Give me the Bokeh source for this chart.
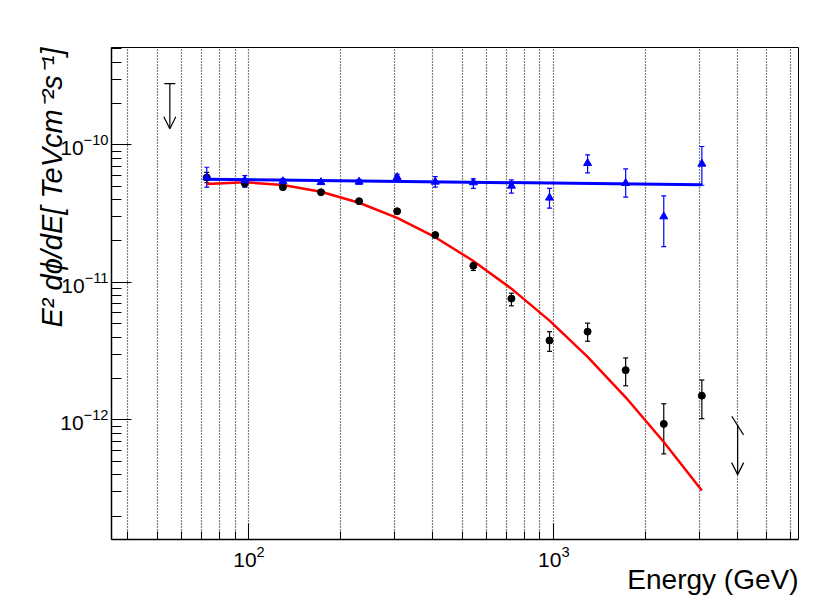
import math
from bokeh.plotting import figure
from bokeh.models import (Range1d, FixedTicker, LogTickFormatter, Title, Arrow,
                          OpenHead, Whisker, TeeHead, ColumnDataSource)
from bokeh.embed import file_html
from bokeh.resources import INLINE

# ---------------- data ----------------
energy = [72.7, 96.9, 129.2, 172.3, 229.7, 306.3, 408.4, 544.6, 726.1,
          968.2, 1291, 1721, 2295, 3060]

black_flux = [5.78e-11, 5.26e-11, 4.92e-11, 4.52e-11, 3.89e-11, 3.29e-11,
              2.21e-11, 1.32e-11, 7.62e-12, 3.78e-12, 4.38e-12, 2.30e-12,
              9.35e-13, 1.50e-12]
black_lo = [5.30e-11, 4.95e-11, 4.75e-11, 4.38e-11, 3.77e-11, 3.18e-11,
            2.12e-11, 1.22e-11, 6.75e-12, 3.15e-12, 3.73e-12, 1.77e-12,
            5.66e-13, 1.02e-12]
black_hi = [6.30e-11, 5.60e-11, 5.10e-11, 4.66e-11, 4.01e-11, 3.40e-11,
            2.30e-11, 1.38e-11, 8.34e-12, 4.38e-12, 5.05e-12, 2.82e-12,
            1.31e-12, 1.95e-12]

blue_flux = [5.78e-11, 5.50e-11, 5.43e-11, 5.34e-11, 5.38e-11, 5.81e-11,
             5.38e-11, 5.32e-11, 5.03e-11, 4.12e-11, 7.35e-11, 5.26e-11,
             3.01e-11, 7.27e-11]
blue_lo = [4.92e-11, 4.92e-11, 5.20e-11, 5.15e-11, 5.18e-11, 5.55e-11,
           4.92e-11, 4.83e-11, 4.45e-11, 3.46e-11, 6.25e-11, 4.16e-11,
           1.82e-11, 5.08e-11]
blue_hi = [6.87e-11, 5.98e-11, 5.68e-11, 5.55e-11, 5.60e-11, 6.10e-11,
           5.88e-11, 5.66e-11, 5.56e-11, 4.83e-11, 8.46e-11, 6.68e-11,
           4.26e-11, 9.72e-11]

# red curved fit sampled at the bin energies
red_fit = [5.20e-11, 5.34e-11, 5.11e-11, 4.56e-11, 3.79e-11, 2.94e-11,
           2.13e-11, 1.43e-11, 9.00e-12, 5.27e-12, 2.87e-12, 1.46e-12,
           6.90e-13, 3.07e-13]
# blue power-law fit (straight in log-log): end points
blue_fit_x = [72.7, 3060]
blue_fit_y = [5.62e-11, 5.12e-11]

# upper limits
ul_x = [55.0, 4010]
ul_top = [2.79e-10, 9.1e-13]
ul_tip = [1.31e-10, 4.0e-13]

x_major = [1e2, 1e3]
x_minor = [40, 50, 60, 70, 80, 90, 200, 300, 400, 500, 600, 700, 800, 900,
           2000, 3000, 4000, 5000, 6000]
y_major = [1e-13, 1e-12, 1e-11, 1e-10]
y_minor = [m * 10.0 ** e for e in (-13, -12, -11, -10) for m in range(2, 10)]

x_title = "Energy (GeV)"
y_title = "E² dϕ/dE[ TeVcm⁻²s⁻¹]"

X0, X1 = 35.4, 6350
Y0, Y1 = 1.35e-13, 5.1e-10

# ---------------- figure ----------------
FONT = "Liberation Sans"
W, H = 830, 614
BL, BR, BT, BB = 111, 32, 47, 75
p = figure(width=W, height=H, x_axis_type="log", y_axis_type="log",
           x_range=Range1d(X0, X1), y_range=Range1d(Y0, Y1),
           output_backend="svg", toolbar_location=None,
           min_border_left=BL, min_border_right=BR, min_border_top=BT,
           min_border_bottom=BB)
p.background_fill_color = "white"
p.border_fill_color = "white"
p.outline_line_color = "black"
p.outline_line_width = 1

p.xaxis.ticker = FixedTicker(ticks=x_major, minor_ticks=x_minor)
p.yaxis.ticker = FixedTicker(ticks=y_major, minor_ticks=y_minor)
p.xaxis.formatter = LogTickFormatter()
p.yaxis.formatter = LogTickFormatter()

for ax, maj, mnr in ((p.xaxis, 16, 8), (p.yaxis, 20, 10)):
    ax.major_tick_in = maj
    ax.major_tick_out = 0
    ax.minor_tick_in = mnr
    ax.minor_tick_out = 0
    ax.axis_line_width = 1.5
    ax.major_tick_line_width = 1
    ax.minor_tick_line_width = 1
    ax.major_label_text_font = FONT
    ax.major_label_text_font_size = "21px"
    ax.major_label_text_color = "black"
    ax.axis_line_color = "black"
    ax.major_tick_line_color = "black"
    ax.minor_tick_line_color = "black"
p.xaxis.major_label_standoff = 6
p.yaxis.major_label_standoff = 3

p.ygrid.grid_line_color = None
p.xgrid.grid_line_color = "black"
p.xgrid.grid_line_dash = "1 2"
p.xgrid.grid_line_width = 1.2
p.xgrid.minor_grid_line_color = "black"
p.xgrid.minor_grid_line_dash = "1 2"
p.xgrid.minor_grid_line_width = 1.2

# ---------------- fits ----------------
p.line(energy, red_fit, line_color="#ff0000", line_width=2.5)
p.line(blue_fit_x, blue_fit_y, line_color="#0000ff", line_width=3)

# ---------------- error bars ----------------
bsrc = ColumnDataSource(dict(x=energy, y=black_flux, lo=black_lo, hi=black_hi))
usrc = ColumnDataSource(dict(x=energy, y=blue_flux, lo=blue_lo, hi=blue_hi))
for src, col in ((bsrc, "black"), (usrc, "#0000ff")):
    w = Whisker(source=src, base="x", lower="lo", upper="hi", dimension="height",
                line_color=col, line_width=1.2,
                upper_head=TeeHead(size=5, line_color=col, line_width=1.2),
                lower_head=TeeHead(size=5, line_color=col, line_width=1.2))
    p.add_layout(w)

p.scatter("x", "y", source=bsrc, marker="circle", size=7,
          fill_color="black", line_color="black")
p.scatter("x", "y", source=usrc, marker="triangle", size=8,
          fill_color="#0000ff", line_color="#0000ff")

# ---------------- upper limits ----------------
for i in range(len(ul_x)):
    p.add_layout(Arrow(x_start=ul_x[i], y_start=ul_top[i], x_end=ul_x[i],
                       y_end=ul_tip[i], line_color="black", line_width=1.2,
                       end=OpenHead(size=12, line_color="black", line_width=1.2)))
cap_sizes = [11, 22]
cap_angles = [0.0, -1.007]
p.scatter(ul_x, ul_top, marker="dash", size=cap_sizes, angle=cap_angles,
          line_color="black", line_width=1.2)

# ---------------- axis titles ----------------
p.add_layout(Title(text=x_title, align="right", text_font=FONT,
                   text_font_size="28px", text_font_style="normal",
                   text_color="black", standoff=-15), "below")
p.add_layout(Title(text=y_title, align="right", text_font=FONT,
                   text_font_size="29px", text_font_style="italic",
                   text_color="black", standoff=-21), "left")

open("out.html", "w").write(file_html(p, INLINE))
